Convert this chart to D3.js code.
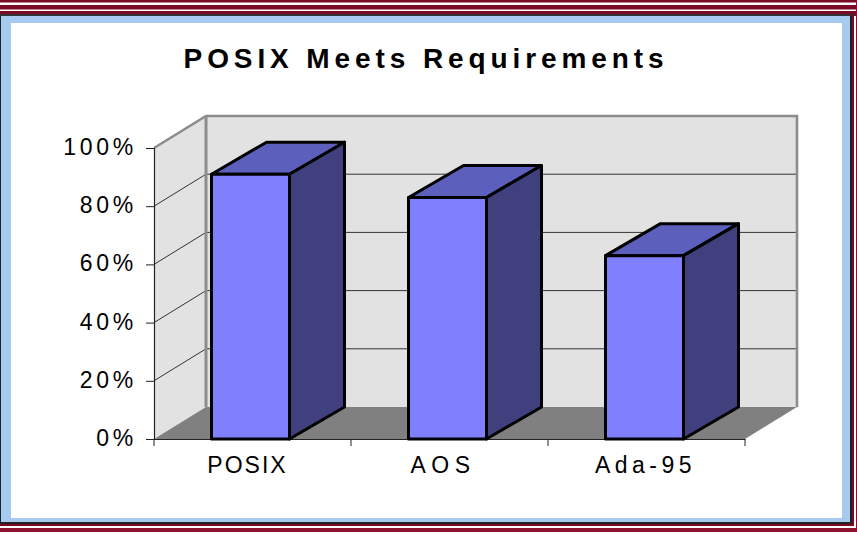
<!DOCTYPE html>
<html>
<head>
<meta charset="utf-8">
<script src="https://cdn.jsdelivr.net/npm/d3@7"></script>
<style>
  html, body { margin: 0; padding: 0; background: #fff; }
  svg { display: block; }
  text { font-family: "Liberation Sans", Arial, sans-serif; fill: #000; }
</style>
</head>
<body>
<div id="chart"></div>
<script>
const categories = ["POSIX", "AOS", "Ada-95"];
const values = [91, 83, 63];
const tickValues = [0, 20, 40, 60, 80, 100];

const width = 857, height = 535;
const plot = { left: 154, right: 745, top: 148, bottom: 439 };
const wallDepth = { x: 52, y: -32 };
const barDepth = { x: 55, y: -32 };

const svg = d3.select("#chart").append("svg")
    .attr("width", width)
    .attr("height", height);

// frame stripes, outside in
svg.append("rect").attr("width", width).attr("height", height).attr("fill", "#fff");
svg.append("rect").attr("width", width).attr("height", 2.5).attr("fill", "#7a0a24");
svg.append("rect").attr("y", 5).attr("width", width).attr("height", 4.5).attr("fill", "#7a0a24");
svg.append("rect").attr("y", 11).attr("width", width).attr("height", 3).attr("fill", "#7a0a24");
svg.append("rect").attr("y", 14).attr("width", width).attr("height", 2).attr("fill", "#333");
svg.append("rect").attr("x", 856).attr("width", 1).attr("height", 532).attr("fill", "#8c1230");
svg.append("rect").attr("x", 851).attr("y", 14).attr("width", 3).attr("height", 512).attr("fill", "#7a0a24");
svg.append("rect").attr("y", 528).attr("width", width).attr("height", 4).attr("fill", "#8c1230");
svg.append("rect").attr("y", 523).attr("width", 854).attr("height", 3).attr("fill", "#7a0a24");
svg.append("rect").attr("y", 16).attr("width", 852).attr("height", 508).attr("fill", "#222");
svg.append("rect").attr("x", 1).attr("y", 16).attr("width", 849).attr("height", 506).attr("fill", "#a6caf0");
svg.append("rect").attr("x", 11).attr("y", 23).attr("width", 831).attr("height", 495).attr("fill", "#fff");

// scales
const x = d3.scaleBand()
    .domain(categories)
    .range([plot.left, plot.right]);

const y = d3.scaleLinear()
    .domain([0, 100])
    .range([plot.bottom, plot.top]);

const line = d3.line();

// side wall, back wall
svg.append("path")
    .attr("d", line([[plot.left, y(0)], [plot.left, y(100)], [plot.left + wallDepth.x, y(100) + wallDepth.y], [plot.left + wallDepth.x, y(0) + wallDepth.y]]) + "Z")
    .attr("fill", "#e2e2e2");
svg.append("rect")
    .attr("x", plot.left + wallDepth.x)
    .attr("y", y(100) + wallDepth.y)
    .attr("width", plot.right - plot.left)
    .attr("height", y(0) - y(100))
    .attr("fill", "#e2e2e2");

// gridlines
tickValues.filter(d => d > 0 && d < 100).forEach(d => {
    svg.append("path")
        .attr("d", line([[plot.left, y(d)], [plot.left + wallDepth.x, y(d) + wallDepth.y], [plot.right + wallDepth.x, y(d) + wallDepth.y]]))
        .attr("fill", "none")
        .attr("stroke", "#333")
        .attr("stroke-width", 1);
});

// grey wall edges
svg.append("path")
    .attr("d", line([[plot.left, y(100)], [plot.left + wallDepth.x, y(100) + wallDepth.y], [plot.right + wallDepth.x, y(100) + wallDepth.y], [plot.right + wallDepth.x, y(0) + wallDepth.y]]))
    .attr("fill", "none")
    .attr("stroke", "#8c8c8c")
    .attr("stroke-width", 2.6);
svg.append("line")
    .attr("x1", plot.left + wallDepth.x)
    .attr("x2", plot.left + wallDepth.x)
    .attr("y1", y(100) + wallDepth.y)
    .attr("y2", y(0) + wallDepth.y)
    .attr("stroke", "#8c8c8c")
    .attr("stroke-width", 3);

// floor
svg.append("path")
    .attr("d", line([[plot.left, y(0)], [plot.left + wallDepth.x, y(0) + wallDepth.y], [plot.right + wallDepth.x, y(0) + wallDepth.y], [plot.right, y(0)]]) + "Z")
    .attr("fill", "#808080");

// axes
const yAxis = svg.append("g")
    .attr("transform", `translate(${plot.left}, 0)`)
    .call(d3.axisLeft(y).tickValues(tickValues).tickSize(8).tickPadding(9).tickFormat(d => d + "%"));
const xAxis = svg.append("g")
    .attr("transform", `translate(0, ${plot.bottom})`)
    .call(d3.axisBottom(x).tickSize(0).tickPadding(18));

svg.selectAll(".domain").attr("stroke", "#222").attr("stroke-width", 1.2);
svg.selectAll(".tick line").attr("stroke", "#222").attr("stroke-width", 1);
yAxis.selectAll("text")
    .attr("dy", "0.28em")
    .style("font-size", "23px")
    .style("letter-spacing", "3.7px");

// the labels are not evenly tracked in the original, so each gets its own spacing
const labelSpacing = [2, 5.5, 4.5];
const labelShift = [-5, -6.5, -1];
xAxis.selectAll("text")
    .style("font-size", "23px")
    .style("letter-spacing", (d, i) => labelSpacing[i] + "px")
    .attr("dx", (d, i) => labelShift[i]);

// category boundary ticks
x.domain().concat([null]).forEach((d, i) => {
    const tx = plot.left + i * x.step();
    svg.append("line")
        .attr("x1", tx).attr("x2", tx)
        .attr("y1", plot.bottom).attr("y2", plot.bottom + 7)
        .attr("stroke", "#222");
});

// bars: top, side, front
const barWidth = 78;
const bars = svg.selectAll(".bar")
    .data(values)
    .enter()
    .append("g")
    .attr("class", "bar")
    .attr("stroke", "#000")
    .attr("stroke-width", 3)
    .attr("stroke-linejoin", "round");

const barX = (d, i) => x(categories[i]) + (x.step() - barWidth) / 2 - 2;

bars.append("path")
    .attr("fill", "#5d5fbd")
    .attr("d", (d, i) => {
        const l = barX(d, i), t = y(d);
        return line([[l, t], [l + barDepth.x, t + barDepth.y], [l + barWidth + barDepth.x, t + barDepth.y], [l + barWidth, t]]) + "Z";
    });
bars.append("path")
    .attr("fill", "#40407f")
    .attr("d", (d, i) => {
        const r = barX(d, i) + barWidth, t = y(d);
        return line([[r, t], [r + barDepth.x, t + barDepth.y], [r + barDepth.x, y(0) + barDepth.y], [r, y(0)]]) + "Z";
    });
bars.append("rect")
    .attr("fill", "#8080ff")
    .attr("x", barX)
    .attr("y", d => y(d))
    .attr("width", barWidth)
    .attr("height", d => y(0) - y(d));

// title
svg.append("text")
    .attr("x", 426)
    .attr("y", 68)
    .attr("text-anchor", "middle")
    .attr("font-weight", "bold")
    .style("font-size", "28px")
    .style("letter-spacing", "4.9px")
    .text("POSIX Meets Requirements");
</script>
</body>
</html>
